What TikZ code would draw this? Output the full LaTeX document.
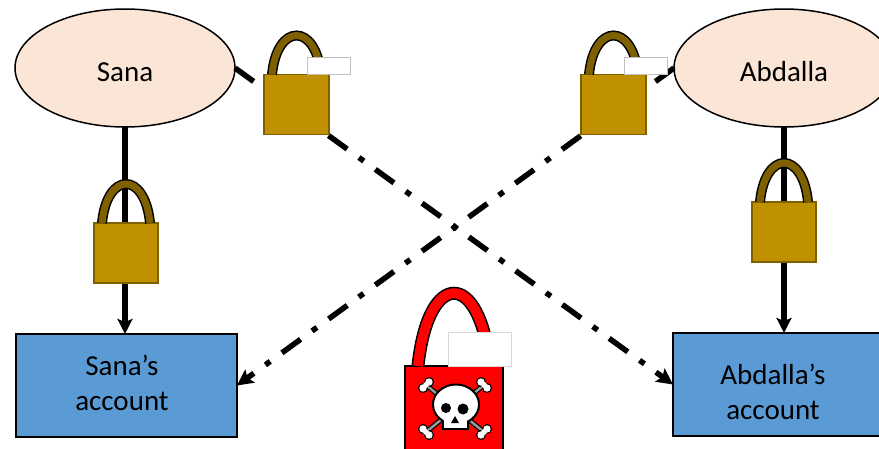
\documentclass[tikz,border=0pt]{standalone}
\usepackage{fontspec}
\setmainfont{Carlito}
\usepackage{tikz}
\usetikzlibrary{arrows.meta,positioning,shapes.geometric}

\definecolor{peach}{HTML}{FBE5D6}
\definecolor{acctblue}{HTML}{5B9BD5}
\definecolor{lockgold}{HTML}{BF9000}
\definecolor{lockbrown}{HTML}{7F6000}

\begin{document}
\begin{tikzpicture}[
  x=1pt, y=1pt,
  person/.style={draw, line width=1.5pt, ellipse, fill=peach, minimum width=220pt, minimum height=118pt, inner sep=0pt, outer sep=0pt, text height=27pt, text depth=0pt, font=\fontsize{29}{35}\selectfont},
  acct/.style={draw, line width=1.5pt, fill=acctblue, minimum width=221pt, minimum height=103pt, inner sep=0pt, outer sep=0pt},
  acctext/.style={align=center, inner sep=0pt, font=\fontsize{29}{35}\selectfont},
  goldlock/.style={draw=lockbrown, line width=1.5pt, fill=lockgold, minimum width=64pt, minimum height=60pt, inner sep=0pt, outer sep=0pt},
  redlock/.style={draw, line width=1.5pt, fill=red, minimum width=98pt, minimum height=100pt, inner sep=0pt, outer sep=0pt},
  tag/.style={draw=black!25, line width=1pt, fill=white, anchor=south west, inner sep=0pt, outer sep=0pt},
  solidarr/.style={line width=5.5pt, -{Stealth[length=15pt,width=15pt,inset=3pt]}},
  dasharr/.style={line width=5.5pt, -{Stealth[length=16pt,width=16pt,inset=3pt]}, dash pattern=on 23pt off 14.5pt on 6pt off 14.2pt}
]
\clip (0,0) rectangle (879,448);

\node[person] (sana) at (125,380) {Sana};
\node[person] (abdalla) at (784,380) {Abdalla};
\node[acct] (sanaacct) at (126.5,62.5) {};
\node[acct] (abdallaacct) at (783.5,63.5) {};
\node[acctext] (sanatext) at (122,65) {Sana’s\\account};
\node[acctext] (abdallatext) at (773,56) {Abdalla’s\\account};

% the four connectors go under the locks
\draw[solidarr] (sana.south) -- (sana.south |- sanaacct.north);
\draw[solidarr] (abdalla.south) -- (abdalla.south |- abdallaacct.north);
\draw[dasharr] (sana.east) -- (abdallaacct.west);
\draw[dasharr] (abdalla.west) -- (sanaacct.east);

\node[goldlock] (locksana) at (126,195) {};
\node[goldlock] (lockabdalla) at (784,216) {};
\node[goldlock, minimum width=65pt] (lockcross) at (296.5,343.5) {};
\node[goldlock, minimum width=65pt] (lockcrossb) at (613.5,343.5) {};
\node[redlock] (lockstolen) at (454,32) {};

\foreach \lock in {locksana,lockabdalla,lockcross,lockcrossb} {
  \draw[line width=10pt] ([xshift=8pt]\lock.north west) .. controls +(5,52) and +(-5,52) .. ([xshift=-8pt]\lock.north east);
  \draw[line width=7pt, lockbrown] ([xshift=8pt]\lock.north west) .. controls +(5,52) and +(-5,52) .. ([xshift=-8pt]\lock.north east);
}
\draw[line width=13pt] ([xshift=13pt]lockstolen.north west) .. controls +(10,97) and +(-10,97) .. ([xshift=-13pt]lockstolen.north east);
\draw[line width=10pt, red] ([xshift=13pt]lockstolen.north west) .. controls +(10,97) and +(-10,97) .. ([xshift=-13pt]lockstolen.north east);

\node[tag, minimum width=43pt, minimum height=17pt] (tagcross) at ([xshift=-22pt]lockcross.north east) {};
\node[tag, minimum width=43pt, minimum height=17pt] (tagcrossb) at ([xshift=-22pt]lockcrossb.north east) {};
\node[tag, draw=black!15, minimum width=63pt, minimum height=34pt] (tagstolen) at ([xshift=-55pt]lockstolen.north east) {};

% skull and bones
\begin{scope}[shift={(455,45)}]
  \foreach \sx in {-1,1} {
    \draw[line width=5pt, black] (\sx*29,18) -- (-\sx*29,-29);
    \draw[line width=2.5pt, black!40] (\sx*29,18) -- (-\sx*29,-29);
  }
  \foreach \bx/\by/\s in {-29/18/1,29/18/-1,-29/-29/-1,29/-29/1} {
    \fill[black] (\bx+\s*3,\by+3) circle (5pt) (\bx-\s*3,\by-3) circle (5pt);
    \fill[white] (\bx+\s*3,\by+3) circle (3.7pt) (\bx-\s*3,\by-3) circle (3.7pt) (\bx,\by) circle (3pt);
  }
  \draw[line width=2pt, fill=white] (-12,-14) rectangle (13,-26);
  \draw[line width=2pt, fill=white] (1,-1.5) ellipse (23pt and 20pt);
  \fill[white] (-11,-14) rectangle (12,-24.5);
  \fill[black] (-9,-5) circle (5pt) (8,-6) circle (5.5pt);
  \fill[black] (0,-13) -- (-4,-20) -- (4,-20) -- cycle;
\end{scope}
\end{tikzpicture}
\end{document}
